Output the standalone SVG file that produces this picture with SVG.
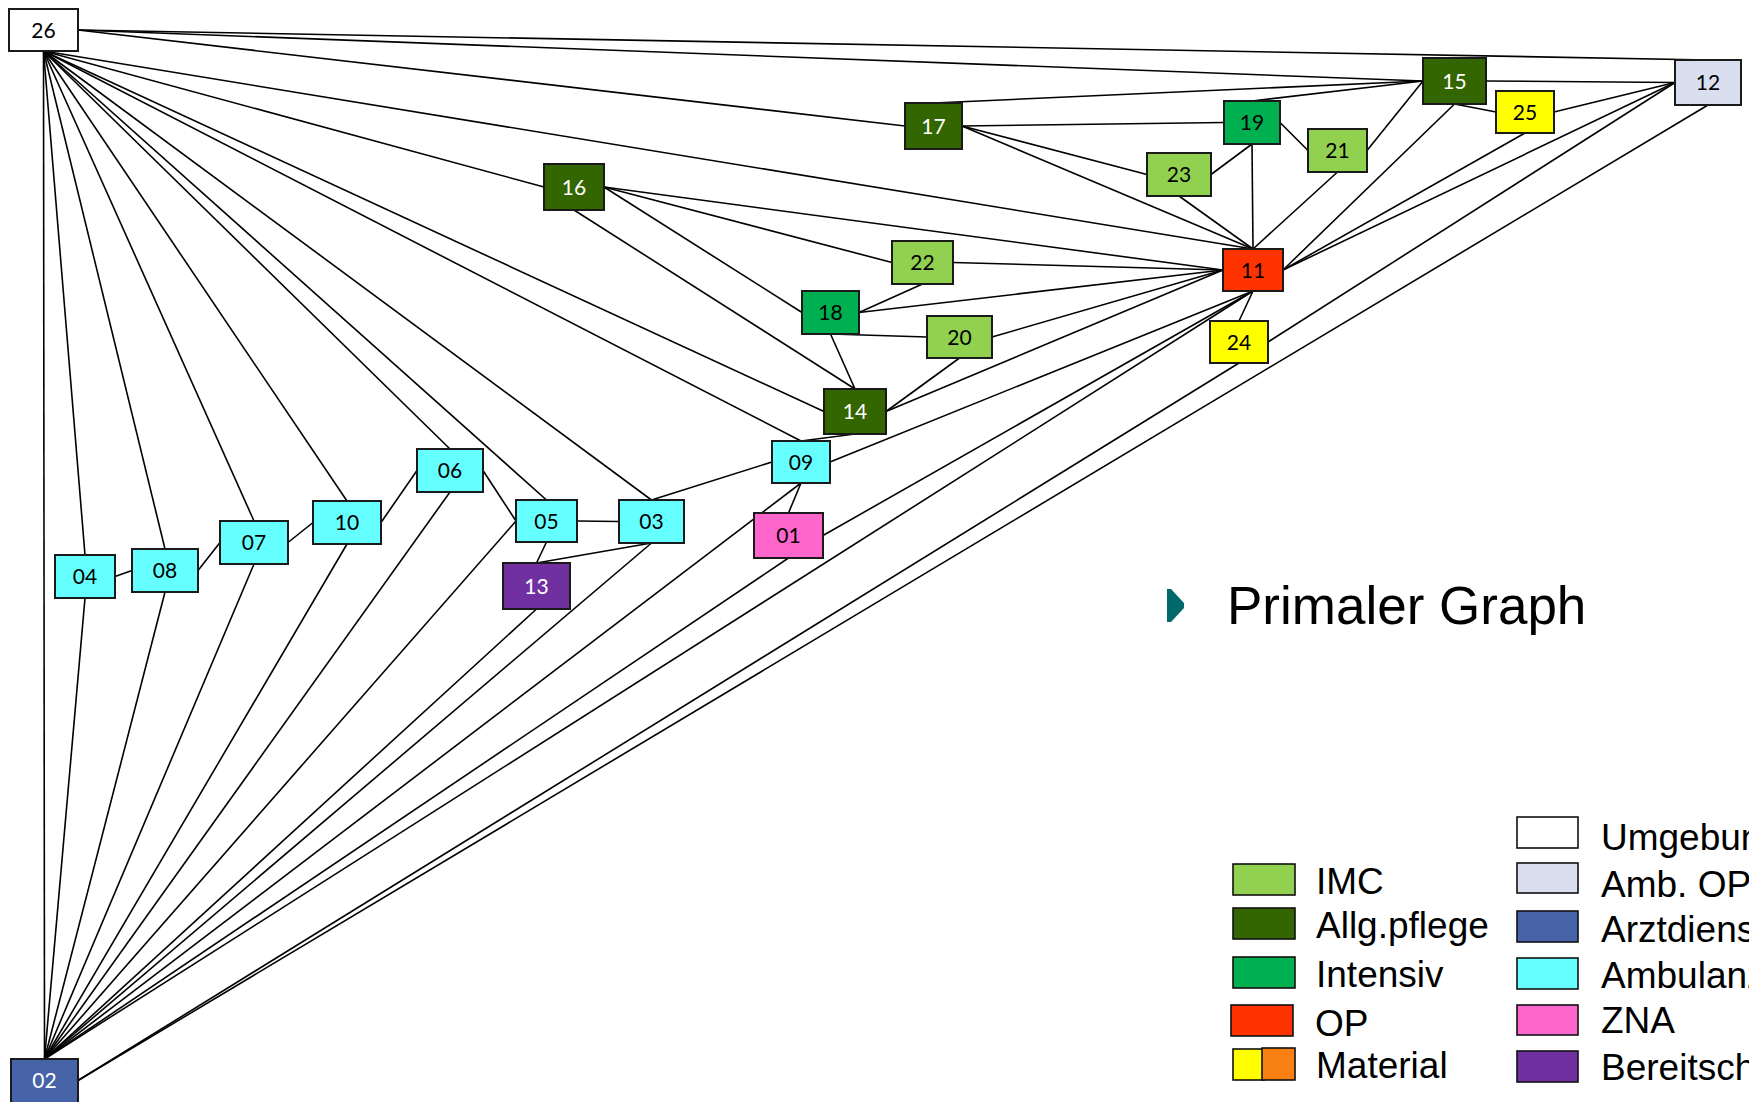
<svg xmlns="http://www.w3.org/2000/svg" width="1749" height="1102" viewBox="0 0 1749 1102">
<style>
.bg{fill:#ffffff}
.e line{stroke:#000;stroke-width:1.6;fill:none}
.n rect{stroke:#1a1a1a;stroke-width:2}
.n text{font-family:Lato,"Noto Sans",sans-serif;font-size:21px;text-anchor:middle}
.dk{fill:#ffffff}
.lt{fill:#000000}
.imc{fill:#92D050}.allg{fill:#336600}.int{fill:#00B050}.op{fill:#FF3300}.mat{fill:#FFFF00}.orn{fill:#F98012}
.umg{fill:#ffffff}.amb{fill:#D9DFEF}.arzt{fill:#4763A8}.ambl{fill:#66FFFF}.zna{fill:#FF66CC}.ber{fill:#7030A0}
.lg rect{stroke:#111;stroke-width:1.6}
.lg text{font-family:"Liberation Sans",Arial,sans-serif;font-size:37px;fill:#000}
.title{font-family:"Liberation Sans",Arial,sans-serif;font-size:53px;fill:#000}
</style>
<rect class="bg" x="0" y="0" width="1749" height="1102"/>
<g id="connectors" class="e">
<line x1="78" y1="30" x2="1708" y2="60"/>
<line x1="78" y1="30" x2="1423" y2="81"/>
<line x1="78" y1="30" x2="905" y2="126"/>
<line x1="43.5" y1="51" x2="1253" y2="249"/>
<line x1="43.5" y1="51" x2="544" y2="187"/>
<line x1="43.5" y1="51" x2="824" y2="411.5"/>
<line x1="43.5" y1="51" x2="801" y2="441"/>
<line x1="43.5" y1="51" x2="651.5" y2="500"/>
<line x1="43.5" y1="51" x2="546.5" y2="500"/>
<line x1="43.5" y1="51" x2="450" y2="449"/>
<line x1="43.5" y1="51" x2="347" y2="501"/>
<line x1="43.5" y1="51" x2="254" y2="521"/>
<line x1="43.5" y1="51" x2="165" y2="549"/>
<line x1="43.5" y1="51" x2="85" y2="555"/>
<line x1="43.5" y1="51" x2="44.5" y2="1059"/>
<line x1="44.5" y1="1059" x2="85" y2="598"/>
<line x1="44.5" y1="1059" x2="165" y2="592"/>
<line x1="44.5" y1="1059" x2="254" y2="564"/>
<line x1="44.5" y1="1059" x2="347" y2="544"/>
<line x1="44.5" y1="1059" x2="450" y2="492"/>
<line x1="44.5" y1="1059" x2="516" y2="521"/>
<line x1="44.5" y1="1059" x2="536.5" y2="609"/>
<line x1="44.5" y1="1059" x2="651.5" y2="543"/>
<line x1="44.5" y1="1059" x2="801" y2="483"/>
<line x1="44.5" y1="1059" x2="788.5" y2="558"/>
<line x1="44.5" y1="1059" x2="1253" y2="291"/>
<line x1="78" y1="1080.5" x2="1239" y2="363"/>
<line x1="78" y1="1080.5" x2="1708" y2="105"/>
<line x1="115" y1="576.5" x2="132" y2="570.5"/>
<line x1="198" y1="570.5" x2="220" y2="542.5"/>
<line x1="288" y1="542.5" x2="313" y2="522.5"/>
<line x1="381" y1="522.5" x2="417" y2="470.5"/>
<line x1="483" y1="470.5" x2="516" y2="521"/>
<line x1="577" y1="521" x2="619" y2="521.5"/>
<line x1="546.5" y1="542" x2="536.5" y2="563"/>
<line x1="651.5" y1="543" x2="536.5" y2="563"/>
<line x1="651.5" y1="500" x2="772" y2="462"/>
<line x1="801" y1="483" x2="788.5" y2="513"/>
<line x1="801" y1="441" x2="855" y2="434"/>
<line x1="830" y1="462" x2="1253" y2="291"/>
<line x1="823" y1="535.5" x2="1253" y2="291"/>
<line x1="855" y1="389" x2="574" y2="210"/>
<line x1="855" y1="389" x2="830.5" y2="334"/>
<line x1="886" y1="411.5" x2="959.5" y2="358"/>
<line x1="886" y1="411.5" x2="1223" y2="270"/>
<line x1="604" y1="187" x2="802" y2="312.5"/>
<line x1="604" y1="187" x2="892" y2="262.5"/>
<line x1="604" y1="187" x2="1223" y2="270"/>
<line x1="859" y1="312.5" x2="922.5" y2="284"/>
<line x1="859" y1="312.5" x2="1223" y2="270"/>
<line x1="830.5" y1="334" x2="927" y2="337"/>
<line x1="992" y1="337" x2="1223" y2="270"/>
<line x1="953" y1="262.5" x2="1223" y2="270"/>
<line x1="933.5" y1="103" x2="1423" y2="81"/>
<line x1="962" y1="126" x2="1224" y2="122.5"/>
<line x1="962" y1="126" x2="1147" y2="174.5"/>
<line x1="962" y1="126" x2="1253" y2="249"/>
<line x1="1252" y1="101" x2="1423" y2="81"/>
<line x1="1280" y1="122.5" x2="1308" y2="150.5"/>
<line x1="1252" y1="144" x2="1211" y2="174.5"/>
<line x1="1252" y1="144" x2="1253" y2="249"/>
<line x1="1179" y1="196" x2="1253" y2="249"/>
<line x1="1367" y1="150.5" x2="1423" y2="81"/>
<line x1="1337.5" y1="172" x2="1253" y2="249"/>
<line x1="1454.5" y1="104" x2="1283" y2="270"/>
<line x1="1454.5" y1="104" x2="1496" y2="112"/>
<line x1="1486" y1="81" x2="1675" y2="82.5"/>
<line x1="1554" y1="112" x2="1675" y2="82.5"/>
<line x1="1525" y1="133" x2="1283" y2="270"/>
<line x1="1675" y1="82.5" x2="1283" y2="270"/>
<line x1="1675" y1="82.5" x2="1268" y2="342"/>
<line x1="1239" y1="321" x2="1253" y2="291"/>
</g>
<g id="n26" class="n"><rect class="umg" x="9" y="9" width="69" height="42"/><text class="lt" x="43.5" y="37.5">26</text></g>
<g id="n02" class="n"><rect class="arzt" x="11" y="1059" width="67" height="46"/><text class="dk" x="44.5" y="1088">02</text></g>
<g id="n04" class="n"><rect class="ambl" x="55" y="555" width="60" height="43"/><text class="lt" x="85" y="584">04</text></g>
<g id="n08" class="n"><rect class="ambl" x="132" y="549" width="66" height="43"/><text class="lt" x="165" y="578">08</text></g>
<g id="n07" class="n"><rect class="ambl" x="220" y="521" width="68" height="43"/><text class="lt" x="254" y="550">07</text></g>
<g id="n10" class="n"><rect class="ambl" x="313" y="501" width="68" height="43"/><text class="lt" x="347" y="530">10</text></g>
<g id="n06" class="n"><rect class="ambl" x="417" y="449" width="66" height="43"/><text class="lt" x="450" y="478">06</text></g>
<g id="n05" class="n"><rect class="ambl" x="516" y="500" width="61" height="42"/><text class="lt" x="546.5" y="528.5">05</text></g>
<g id="n03" class="n"><rect class="ambl" x="619" y="500" width="65" height="43"/><text class="lt" x="651.5" y="529">03</text></g>
<g id="n13" class="n"><rect class="ber" x="503" y="563" width="67" height="46"/><text class="dk" x="536.5" y="593.5">13</text></g>
<g id="n09" class="n"><rect class="ambl" x="772" y="441" width="58" height="42"/><text class="lt" x="801" y="469.5">09</text></g>
<g id="n01" class="n"><rect class="zna" x="754" y="513" width="69" height="45"/><text class="lt" x="788.5" y="543">01</text></g>
<g id="n14" class="n"><rect class="allg" x="824" y="389" width="62" height="45"/><text class="dk" x="855" y="419">14</text></g>
<g id="n18" class="n"><rect class="int" x="802" y="291" width="57" height="43"/><text class="lt" x="830.5" y="320">18</text></g>
<g id="n20" class="n"><rect class="imc" x="927" y="316" width="65" height="42"/><text class="lt" x="959.5" y="344.5">20</text></g>
<g id="n22" class="n"><rect class="imc" x="892" y="241" width="61" height="43"/><text class="lt" x="922.5" y="270">22</text></g>
<g id="n16" class="n"><rect class="allg" x="544" y="164" width="60" height="46"/><text class="dk" x="574" y="194.5">16</text></g>
<g id="n17" class="n"><rect class="allg" x="905" y="103" width="57" height="46"/><text class="dk" x="933.5" y="133.5">17</text></g>
<g id="n23" class="n"><rect class="imc" x="1147" y="153" width="64" height="43"/><text class="lt" x="1179" y="182">23</text></g>
<g id="n19" class="n"><rect class="int" x="1224" y="101" width="56" height="43"/><text class="lt" x="1252" y="130">19</text></g>
<g id="n21" class="n"><rect class="imc" x="1308" y="129" width="59" height="43"/><text class="lt" x="1337.5" y="158">21</text></g>
<g id="n11" class="n"><rect class="op" x="1223" y="249" width="60" height="42"/><text class="lt" x="1253" y="277.5">11</text></g>
<g id="n24" class="n"><rect class="mat" x="1210" y="321" width="58" height="42"/><text class="lt" x="1239" y="349.5">24</text></g>
<g id="n15" class="n"><rect class="allg" x="1423" y="58" width="63" height="46"/><text class="dk" x="1454.5" y="88.5">15</text></g>
<g id="n25" class="n"><rect class="mat" x="1496" y="91" width="58" height="42"/><text class="lt" x="1525" y="119.5">25</text></g>
<g id="n12" class="n"><rect class="amb" x="1675" y="60" width="66" height="45"/><text class="lt" x="1708" y="90">12</text></g>
<g id="title">
<polygon points="1167,589 1171,589 1184,603 1184,608 1171,622 1167,622" fill="#00676A"/>
<text class="title" x="1227" y="624">Primaler Graph</text>
</g>
<g id="legend" class="lg">
<rect class="imc" x="1233" y="864" width="62" height="31"/><text x="1316" y="894">IMC</text>
<rect class="allg" x="1233" y="908" width="62" height="31"/><text x="1316" y="938">Allg.pflege</text>
<rect class="int" x="1233" y="957" width="62" height="31"/><text x="1316" y="987">Intensiv</text>
<rect class="op" x="1231" y="1005" width="62" height="31"/><text x="1315" y="1036">OP</text>
<rect class="mat" x="1233" y="1049" width="31" height="31"/><rect class="orn" x="1262" y="1048" width="33" height="32"/><text x="1316" y="1078">Material</text>
<rect class="umg" x="1517" y="817" width="61" height="31"/><text x="1601" y="850">Umgebung</text>
<rect class="amb" x="1517" y="863" width="61" height="30"/><text x="1601" y="897">Amb. OP</text>
<rect class="arzt" x="1517" y="911" width="61" height="31"/><text x="1601" y="942">Arztdienst</text>
<rect class="ambl" x="1517" y="958" width="61" height="31"/><text x="1601" y="988">Ambulanz</text>
<rect class="zna" x="1517" y="1005" width="61" height="30"/><text x="1601" y="1033">ZNA</text>
<rect class="ber" x="1517" y="1051" width="61" height="31"/><text x="1601" y="1080">Bereitschaft</text>
</g>
</svg>
